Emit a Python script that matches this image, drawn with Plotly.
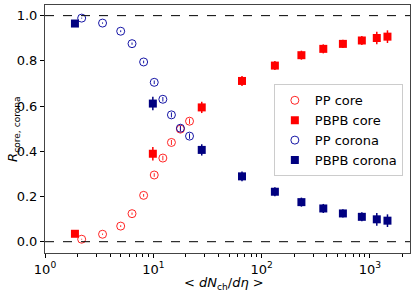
import plotly.graph_objects as go

pp_x = [2.18, 3.4, 5.0, 6.36, 8.14, 10.2, 12.25, 14.7, 17.8, 21.6]
pp_core = [0.011, 0.033, 0.069, 0.124, 0.205, 0.295, 0.370, 0.439, 0.498, 0.533]
pp_corona = [0.989, 0.967, 0.931, 0.876, 0.795, 0.705, 0.630, 0.561, 0.502, 0.467]
pp_err = [0.002, 0.003, 0.004, 0.005, 0.006, 0.008, 0.010, 0.011, 0.012, 0.012]

pbpb_x = [1.89, 9.9, 28.0, 65.9, 132.6, 233, 371, 563, 842, 1157, 1452]
pbpb_core = [0.035, 0.389, 0.594, 0.711, 0.779, 0.825, 0.853, 0.875, 0.890, 0.901, 0.907]
pbpb_corona = [0.965, 0.611, 0.406, 0.289, 0.221, 0.175, 0.147, 0.125, 0.110, 0.099, 0.093]
pbpb_err = [0.006, 0.030, 0.025, 0.022, 0.020, 0.020, 0.020, 0.018, 0.020, 0.028, 0.028]

x_tickvals = [1, 10, 100, 1000]
x_ticktext = ["10<sup>0</sup>", "10<sup>1</sup>", "10<sup>2</sup>", "10<sup>3</sup>"]
x_minor_tickvals = [m * d for d in (1, 10, 100, 1000) for m in range(2, 10)]
y_tickvals = [0.0, 0.2, 0.4, 0.6, 0.8, 1.0]

RED = "rgba(255,0,0,0.85)"
BLUE = "rgba(10,10,160,0.95)"
NAVY = "#000080"

fig = go.Figure()
fig.add_trace(go.Scatter(
    x=pp_x, y=pp_core, mode="markers", name="PP core",
    marker=dict(symbol="circle-open", size=8, color=RED, line=dict(width=1, color=RED)),
    error_y=dict(type="data", array=pp_err, color=RED, thickness=1, width=0),
))
fig.add_trace(go.Scatter(
    x=pbpb_x, y=pbpb_core, mode="markers", name="PBPB core",
    marker=dict(symbol="square", size=8, color="red"),
    error_y=dict(type="data", array=pbpb_err, color="red", thickness=1.5, width=0),
))
fig.add_trace(go.Scatter(
    x=pp_x, y=pp_corona, mode="markers", name="PP corona",
    marker=dict(symbol="circle-open", size=8, color=BLUE, line=dict(width=1, color=BLUE)),
    error_y=dict(type="data", array=pp_err, color=BLUE, thickness=1, width=0),
))
fig.add_trace(go.Scatter(
    x=pbpb_x, y=pbpb_corona, mode="markers", name="PBPB corona",
    marker=dict(symbol="square", size=8, color=NAVY),
    error_y=dict(type="data", array=pbpb_err, color=NAVY, thickness=1.5, width=0),
))

for yv in [0.0, 1.0]:
    fig.add_hline(y=yv, line=dict(color="black", width=1, dash="dash"))

fig.add_annotation(
    text="&lt; <i>dN</i><sub>ch</sub>/<i>dη</i> &gt;",
    xref="paper", yref="paper", x=0.49, y=-0.122, xanchor="center", yanchor="middle",
    showarrow=False, font=dict(size=13),
)
fig.add_annotation(
    text="<i>R</i><sub>core, corona</sub>",
    xref="paper", yref="paper", x=-0.088, y=0.5, xanchor="center", yanchor="middle",
    textangle=-90, showarrow=False, font=dict(size=13),
)

fig.update_layout(
    width=415, height=292,
    margin=dict(l=45, r=5, t=5, b=39, autoexpand=False),
    paper_bgcolor="white", plot_bgcolor="white",
    font=dict(family="DejaVu Sans", size=13, color="black"),
    showlegend=True,
    legend=dict(x=0.627, y=0.68, xanchor="left", yanchor="top",
                bgcolor="white", bordercolor="#cccccc", borderwidth=1,
                font=dict(size=13), itemwidth=30),
)
fig.update_xaxes(
    type="log", range=[0, 3.37], automargin=False,
    tickvals=x_tickvals, ticktext=x_ticktext,
    ticks="outside", ticklen=4, tickwidth=1, tickcolor="black",
    minor=dict(tickvals=x_minor_tickvals, ticks="outside", ticklen=2.5,
               tickcolor="black", tickwidth=0.8, showgrid=False),
    showline=True, linecolor="#444444", linewidth=1, mirror=True,
    showgrid=False, zeroline=False,
)
fig.update_yaxes(
    range=[-0.05, 1.047], automargin=False,
    tickvals=y_tickvals, tickformat=".1f",
    ticks="outside", ticklen=4, tickwidth=1, tickcolor="black",
    showline=True, linecolor="#444444", linewidth=1, mirror=True,
    showgrid=False, zeroline=False,
)

fig.write_html(
    "out.html",
    config={"displayModeBar": False},
    post_script="document.body.style.margin='0';document.body.style.overflow='hidden';",
)
